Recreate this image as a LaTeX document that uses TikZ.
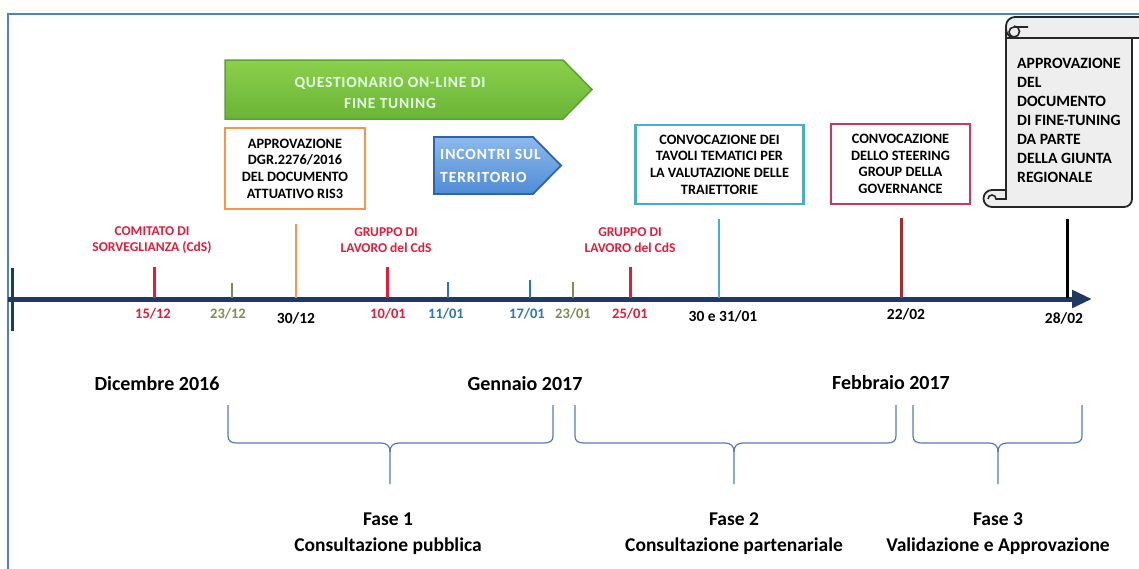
\documentclass[tikz,border=0pt]{standalone}
\usepackage{fontspec}
\setmainfont{Carlito}
\newfontfamily\artgreen{Carlito}[LetterSpace=5]
\newfontfamily\artblue{Carlito}[LetterSpace=6]
\usetikzlibrary{arrows.meta}
\definecolor{redC}{RGB}{224,30,60}
\definecolor{oliveC}{RGB}{128,140,85}
\definecolor{blueC}{RGB}{46,117,182}
\definecolor{orangeC}{RGB}{247,150,70}
\definecolor{tealC}{RGB}{75,172,198}
\definecolor{crimC}{RGB}{205,55,90}
\definecolor{dredC}{RGB}{165,45,45}
\definecolor{navyC}{RGB}{31,56,100}
\definecolor{frameC}{RGB}{79,129,189}
\definecolor{braceC}{RGB}{90,120,185}
\definecolor{greenTop}{RGB}{140,208,75}
\definecolor{greenBot}{RGB}{105,180,55}
\definecolor{greenLine}{RGB}{95,160,50}
\definecolor{blueTop}{RGB}{140,185,235}
\definecolor{blueBot}{RGB}{80,140,215}
\definecolor{blueLine}{RGB}{45,100,175}
\definecolor{scrollFill}{RGB}{238,238,238}
\begin{document}
\begin{tikzpicture}[x=1pt,y=-1pt,
  lbl/.style={font=\bfseries\fontsize{13.5}{16.5}\selectfont, align=center, inner sep=0, text=redC},
  datel/.style={font=\bfseries\fontsize{14.5}{16}\selectfont, inner sep=0},
  dateb/.style={font=\bfseries\fontsize{15.5}{17}\selectfont, inner sep=0, text=black},
  boxn/.style={draw, line width=2.2, fill=white, align=center, inner sep=0,
    font=\bfseries\fontsize{14.3}{16.7}\selectfont},
  month/.style={font=\bfseries\fontsize{20}{22}\selectfont, inner sep=0},
  fase/.style={font=\bfseries\fontsize{19.5}{26}\selectfont, align=center, inner sep=0},
  brace/.style={draw=braceC, line width=1.2},
  scrollst/.style={fill=scrollFill, draw=black!85, line width=1.8},
  scrolll/.style={draw=black!85, line width=1.6}
]
\useasboundingbox (0,0) rectangle (1139,568);
\fill[white] (0,0) rectangle (1139,568);
% frame
\draw[frameC, line width=2] (8,575) -- (8,14) -- (1150,14);

% axis
\coordinate (axs) at (8,299);
\coordinate (axe) at (1092,299);
\draw[navyC, line width=5, -{Triangle[length=20,width=17]}] (axs) -- (axe);
\coordinate (lb1) at (12,268);
\coordinate (lb2) at (12,331);
\draw[navyC, line width=3] (lb1) -- (lb2);

% ticks
\foreach \nm/\x/\t/\c/\w in {a/154/267/redC/3, b/232/283/oliveC/2.2, c/296/224/orangeC/2.5,
  d/387/267/redC/3, e/448/282/blueC/2.2, f/530/280/blueC/2.2, g/573/282/oliveC/2.2,
  h/630/267/redC/3, i/719/219/tealC/2.5, j/901/218/dredC/3, k/1067/219/black/3}{
  \coordinate (\nm top) at (\x,\t);
  \coordinate (\nm bot) at (\x,298);
  \draw[\c, line width=\w] (\nm bot) -- (\nm top);
}

% date labels
\node[datel, text=redC] (d1) at (153,314) {15/12};
\node[datel, text=oliveC] (d2) at (228,314) {23/12};
\node[dateb] (d3) at (296,318) {30/12};
\node[datel, text=redC] (d4) at (388,314) {10/01};
\node[datel, text=blueC] (d5) at (446,314) {11/01};
\node[datel, text=blueC] (d6) at (527,314) {17/01};
\node[datel, text=oliveC] (d7) at (573,314) {23/01};
\node[datel, text=redC] (d8) at (630,314) {25/01};
\node[dateb] (d9) at (723,316) {30 e 31/01};
\node[dateb] (d10) at (906,314) {22/02};
\node[dateb] (d11) at (1064,318) {28/02};

% red labels
\node[lbl] (cds) at (152,240) {COMITATO DI\\SORVEGLIANZA (CdS)};
\node[lbl] (gl1) at (386,240) {GRUPPO DI\\LAVORO del CdS};
\node[lbl] (gl2) at (630,240) {GRUPPO DI\\LAVORO del CdS};

% green arrow
\path[top color=greenTop, bottom color=greenBot, draw=greenLine, line width=1.5]
  (225,60) -- (563,60) -- (592,89.5) -- (563,119) -- (225,119) -- cycle;
\node[font=\artgreen\bfseries\fontsize{15.5}{21}\selectfont, text=white!90!green, align=center, inner sep=0]
  (quest) at (390,93) {QUESTIONARIO ON-LINE DI\\FINE TUNING};

% blue arrow
\path[top color=blueTop, bottom color=blueBot, draw=blueLine, line width=1.8]
  (434,137) -- (533,137) -- (561,165.5) -- (533,194) -- (434,194) -- cycle;
\node[font=\artblue\bfseries\fontsize{15.5}{23}\selectfont, text=white, align=left, inner sep=0, anchor=west]
  (incontri) at (440,166) {INCONTRI SUL\\TERRITORIO};

% boxes
\node[boxn, draw=orangeC, minimum width=140, minimum height=81] (appr) at (295,168.5)
  {APPROVAZIONE\\DGR.2276/2016\\DEL DOCUMENTO\\ATTUATIVO RIS3};
\node[boxn, draw=tealC, minimum width=168, minimum height=79] (conv1) at (719.5,164.5)
  {CONVOCAZIONE DEI\\TAVOLI TEMATICI PER\\LA VALUTAZIONE DELLE\\TRAIETTORIE};
\node[boxn, draw=crimC, minimum width=139, minimum height=80] (conv2) at (900.5,164)
  {CONVOCAZIONE\\DELLO STEERING\\GROUP DELLA\\GOVERNANCE};

% scroll
\path[scrollst] (1006,30) -- (1006,190) -- (992,190)
  arc[start angle=270, end angle=90, radius=8.5]
  [rounded corners=8] -- (1132,207) -- (1132,30) [sharp corners] -- cycle;
\draw[scrolll] (1006,190) -- (1006,199) -- (996,199)
  arc[start angle=0, end angle=-180, radius=4] -- (988,199);
\path[scrollst, rounded corners=9] (1006,38) -- (1006,17) -- (1160,17) -- (1160,38) -- cycle;
\draw[scrolll] (1028,27) -- (1014,27) arc[start angle=270, end angle=90, radius=5]
  arc[start angle=90, end angle=-90, radius=5.5];
\draw[scrolll] (1006,38) -- (1132,38);
\node[font=\bfseries\fontsize{15.7}{19.1}\selectfont, align=left, inner sep=0, anchor=north west]
  (scrolltxt) at (1017,57.5)
  {APPROVAZIONE\\DEL\\DOCUMENTO\\DI FINE-TUNING\\DA PARTE\\DELLA GIUNTA\\REGIONALE};

% months
\node[month] (m1) at (157,384) {Dicembre 2016};
\node[month] (m2) at (525,384) {Gennaio 2017};
\node[month] (m3) at (891,383) {Febbraio 2017};

% braces
\foreach \nm/\l/\m/\r in {b1/228/390/553, b2/575/734/896, b3/913/998/1082}{
  \coordinate (\nm l) at (\l,405);
  \coordinate (\nm r) at (\r,405);
  \coordinate (\nm tip) at (\m,484);
  \draw[brace] (\nm l) -- (\l,436) .. controls (\l,441) and (\l+3,443) .. (\l+9,443)
    -- (\m-9,443) .. controls (\m-3,443) and (\m,446) .. (\m,452) -- (\nm tip);
  \draw[brace] (\nm r) -- (\r,436) .. controls (\r,441) and (\r-3,443) .. (\r-9,443)
    -- (\m+9,443) .. controls (\m+3,443) and (\m,446) .. (\m,452);
}

% phases
\node[fase] (f1) at (388,534) {Fase 1\\Consultazione pubblica};
\node[fase] (f2) at (734,534) {Fase 2\\Consultazione partenariale};
\node[fase] (f3) at (998,534) {Fase 3\\Validazione e Approvazione};
\end{tikzpicture}
\end{document}
